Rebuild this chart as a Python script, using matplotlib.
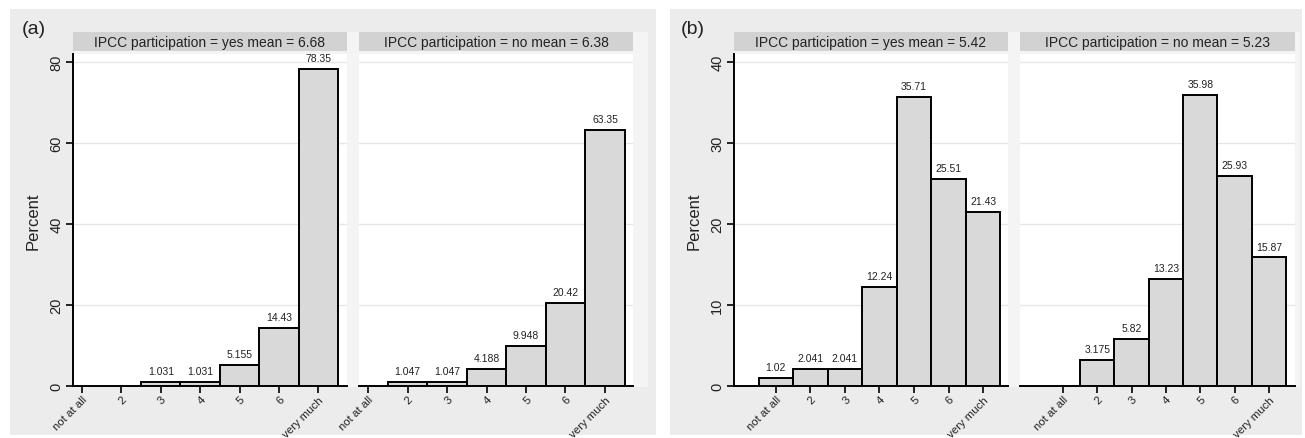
import matplotlib
matplotlib.use("Agg")
import matplotlib.pyplot as plt
from matplotlib.patches import Rectangle

plt.rcParams['font.family'] = ['Liberation Sans', 'DejaVu Sans']

categories = ["not at all", "2", "3", "4", "5", "6", "very much"]
a_yes = [0, 0, 1.031, 1.031, 5.155, 14.43, 78.35]
a_no = [0, 1.047, 1.047, 4.188, 9.948, 20.42, 63.35]
b_yes = [1.02, 2.041, 2.041, 12.24, 35.71, 25.51, 21.43]
b_no = [0, 3.175, 5.82, 13.23, 35.98, 25.93, 15.87]
titles_a = ["IPCC participation = yes mean = 6.68", "IPCC participation = no mean = 6.38"]
titles_b = ["IPCC participation = yes mean = 5.42", "IPCC participation = no mean = 5.23"]
yticks_a = [0, 20, 40, 60, 80]
yticks_b = [0, 10, 20, 30, 40]

W, H = 1305, 439
fig = plt.figure(figsize=(W / 100, H / 100), dpi=100)
fig.patch.set_facecolor("white")

def fx(x):
    return x / W

def fy(y):
    return 1 - y / H

BG = "#ececec"
# panel backgrounds
for (x0, x1, ix0, ix1) in [(10, 656, 73, 648), (670, 1302, 734, 1300)]:
    fig.patches.append(Rectangle((fx(x0), fy(436)), fx(x1) - fx(x0), fy(10) - fy(436),
                                 transform=fig.transFigure, facecolor=BG, edgecolor="none", zorder=-2))
    # lighter inner region
    fig.patches.append(Rectangle((fx(ix0), fy(388)), fx(ix1) - fx(ix0), fy(33) - fy(388),
                                 transform=fig.transFigure, facecolor="#f4f4f4", edgecolor="none", zorder=-1))

top_px, bot_px = 55, 387

def draw(ax_x0, ax_x1, vals, title, ylim, yticks, xlim, first):
    ax = fig.add_axes([fx(ax_x0), fy(bot_px), fx(ax_x1) - fx(ax_x0), fy(top_px) - fy(bot_px)])
    ax.set_zorder(5)
    ax.set_facecolor("white")
    xs = list(range(1, len(categories) + 1))
    for x, v in zip(xs, vals):
        if v > 0:
            ax.bar(x, v, width=1.0, color="#d9d9d9", edgecolor="black", linewidth=1.4, zorder=3)
            ax.text(x, v + ylim[1] * 0.018, "{:.4g}".format(v), ha="center", va="bottom",
                    fontsize=7.5, color="#222222", zorder=4)
    ax.set_xlim(*xlim)
    ax.set_ylim(*ylim)
    ax.set_yticks(yticks)
    for t in yticks:
        ax.axhline(t, color="#e6e6e6", lw=1.0, zorder=1)
    ax.set_xticks(xs)
    ax.set_xticklabels(categories, rotation=45, ha="right", rotation_mode="anchor", fontsize=8.2,
                       color="#222222")
    ax.tick_params(axis="x", length=5, width=1.2, direction="out", pad=1)
    for s in ["top", "right"]:
        ax.spines[s].set_visible(False)
    ax.spines["bottom"].set_linewidth(1.4)
    if first:
        ax.spines["left"].set_linewidth(1.4)
        ax.set_yticklabels([str(t) for t in yticks], rotation=90, va="center", fontsize=10.5,
                           color="#222222")
        ax.tick_params(axis="y", length=5, width=1.2, direction="out", pad=2)
        ax.set_ylabel("Percent", fontsize=12, labelpad=6, color="#222222")
    else:
        ax.spines["left"].set_visible(False)
        ax.set_yticks([])
    # strip
    fig.patches.append(Rectangle((fx(ax_x0), fy(52)), fx(ax_x1) - fx(ax_x0), fy(33) - fy(52),
                                 transform=fig.transFigure, facecolor="#d2d2d2", edgecolor="none",
                                 zorder=1))
    fig.text(fx((ax_x0 + ax_x1) / 2), fy(42.5), title, ha="center", va="center", fontsize=10,
             color="#222222", zorder=6)
    return ax

draw(73, 347, a_yes, titles_a[0], (0, 82), yticks_a, (0.77, 7.73), True)
draw(359, 633, a_no, titles_a[1], (0, 82), yticks_a, (0.77, 7.71), False)
draw(734, 1008, b_yes, titles_b[0], (0, 41), yticks_b, (-0.21, 7.72), True)
draw(1020, 1295, b_no, titles_b[1], (0, 41), yticks_b, (-0.25, 7.76), False)

fig.text(fx(22), fy(30), "(a)", fontsize=14, ha="left", va="center", color="#222222")
fig.text(fx(681), fy(30), "(b)", fontsize=14, ha="left", va="center", color="#222222")

fig.savefig("out.png", dpi=100, facecolor="white")
